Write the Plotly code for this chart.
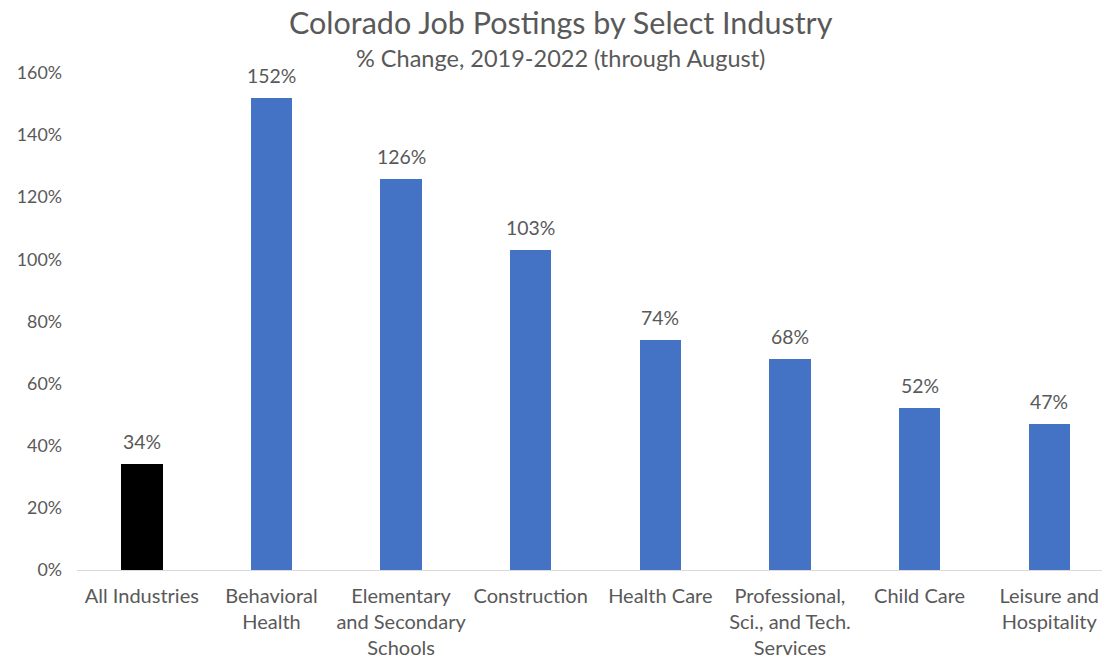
import plotly.graph_objects as go

categories = ["All Industries", "Behavioral<br>Health", "Elementary<br>and Secondary<br>Schools",
              "Construction", "Health Care", "Professional,<br>Sci., and Tech.<br>Services",
              "Child Care", "Leisure and<br>Hospitality"]
values = [34, 152, 126, 103, 74, 68, 52, 47]
colors = ["#000000"] + ["#4472C4"] * 7
tick_vals = [0, 20, 40, 60, 80, 100, 120, 140, 160]
tick_text = [f"{v}%" for v in tick_vals]
labels = [f"{v}%" for v in values]

FONT = "Lato, 'Open Sans', sans-serif"
GRAY = "#595959"

x_pos = list(range(len(categories)))

fig = go.Figure()
fig.add_trace(go.Bar(
    x=x_pos, y=values,
    marker=dict(color=colors, line=dict(width=0)),
    width=0.32,
    hoverinfo="skip",
))

annotations = [
    dict(text=lab, x=xi, y=v, xref="x", yref="y", xanchor="center", yanchor="bottom",
         yshift=9, showarrow=False, font=dict(family=FONT, size=19.4, color=GRAY))
    for xi, v, lab in zip(x_pos, values, labels)
]
annotations += [
    dict(text="Colorado Job Postings by Select Industry", xref="paper", yref="paper",
         x=0.472, y=1.1026, xanchor="center", yanchor="middle", showarrow=False,
         font=dict(family=FONT, size=30.5, color=GRAY)),
    dict(text="% Change, 2019-2022 (through August)", xref="paper", yref="paper",
         x=0.472, y=1.030, xanchor="center", yanchor="middle", showarrow=False,
         font=dict(family=FONT, size=23.5, color=GRAY)),
]

fig.update_layout(
    width=1102, height=655,
    margin=dict(l=77, r=0, t=73, b=85, pad=0),
    paper_bgcolor="white", plot_bgcolor="white",
    showlegend=False,
    bargap=0,
    xaxis=dict(
        range=[-0.5, 7.407],
        tickmode="array", tickvals=x_pos, ticktext=categories,
        showgrid=False, zeroline=False, showline=False, ticks="",
        ticklabelstandoff=12, automargin=False,
        tickfont=dict(family=FONT, size=20, color=GRAY),
        fixedrange=True,
    ),
    yaxis=dict(
        range=[0, 160],
        tickmode="array", tickvals=tick_vals, ticktext=tick_text,
        showgrid=False, zeroline=True, zerolinecolor="#D9D9D9", zerolinewidth=1,
        showline=False, ticks="",
        ticklabelstandoff=14, automargin=False,
        tickfont=dict(family=FONT, size=17.8, color=GRAY),
        fixedrange=True,
    ),
    annotations=annotations,
)

fig.write_html("out.html")
